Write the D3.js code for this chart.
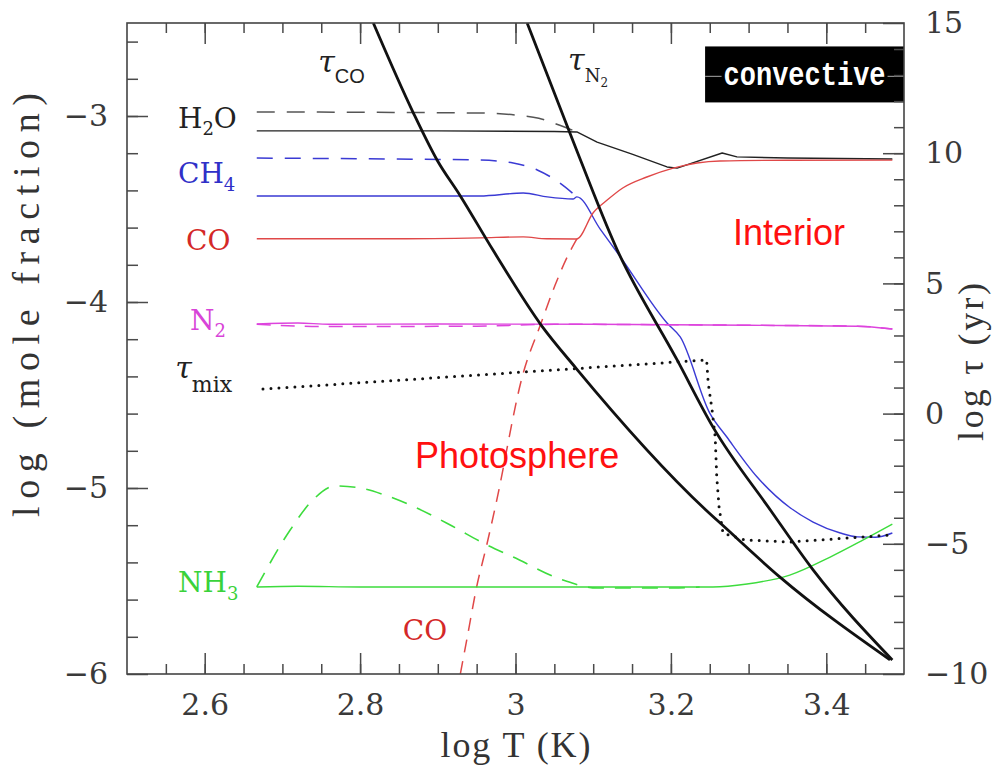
<!DOCTYPE html>
<html>
<head>
<meta charset="utf-8">
<script src="https://cdn.jsdelivr.net/npm/d3@7"></script>
<style>
  body { margin: 0; background: #fff; }
  svg { display: block; }
</style>
</head>
<body>
<svg id="chart" width="992" height="767"></svg>
<script>
// Abundance profiles (log mole fraction) versus log T, with timescales (log yr) on the right axis.
// Dashed = chemical equilibrium, solid = with vertical mixing.

const h2oEquilibrium = [[2.667,-2.978],[2.80,-2.980],[2.954,-2.984],[3.00,-2.995],[3.03,-3.012],[3.057,-3.05],[3.079,-3.086]];
const h2oMixed = [[2.667,-3.08],[2.90,-3.08],[3.05,-3.083],[3.079,-3.086],[3.105,-3.14],[3.15,-3.205],[3.195,-3.274],[3.208,-3.28],[3.266,-3.199],[3.285,-3.22],[3.35,-3.226],[3.485,-3.231]];

const ch4Equilibrium = [[2.667,-3.226],[2.80,-3.23],[2.954,-3.237],[2.997,-3.253],[3.028,-3.29],[3.057,-3.36],[3.079,-3.435]];
const ch4Mixed = [[2.667,-3.43],[2.90,-3.43],[2.954,-3.43],[3.010,-3.414],[3.041,-3.435],[3.074,-3.446],[3.079,-3.435],[3.109,-3.608],[3.135,-3.758],[3.195,-4.113],[3.212,-4.188],[3.250,-4.597],[3.272,-4.726],[3.311,-4.941],[3.353,-5.105],[3.383,-5.183],[3.418,-5.242],[3.44,-5.263],[3.463,-5.265],[3.485,-5.242]];

const coEquilibrium = [[2.929,-6.0],[2.938,-5.80],[2.950,-5.532],[2.963,-5.306],[2.974,-5.102],[3.010,-4.382],[3.032,-4.124],[3.051,-3.909],[3.066,-3.763],[3.079,-3.661]];
const coMixed = [[2.667,-3.66],[2.85,-3.66],[2.954,-3.655],[3.01,-3.65],[3.04,-3.66],[3.079,-3.661],[3.100,-3.52],[3.118,-3.452],[3.138,-3.387],[3.169,-3.328],[3.203,-3.28],[3.263,-3.242],[3.35,-3.238],[3.485,-3.237]];

const n2Equilibrium = [[2.667,-4.12],[2.75,-4.132],[2.95,-4.13],[3.05,-4.12],[3.30,-4.125],[3.44,-4.13],[3.485,-4.145]];
const n2Mixed = [[2.667,-4.118],[2.72,-4.113],[2.76,-4.12],[2.90,-4.118],[3.10,-4.12],[3.30,-4.125],[3.44,-4.13],[3.485,-4.145]];

const nh3Equilibrium = [[2.667,-5.532],[2.710,-5.226],[2.739,-5.065],[2.768,-4.989],[2.80,-5.0],[2.832,-5.038],[2.873,-5.108],[2.916,-5.199],[2.963,-5.306],[2.997,-5.371],[3.061,-5.495],[3.105,-5.538],[3.203,-5.538],[3.237,-5.532]];
const nh3Mixed = [[2.667,-5.532],[2.72,-5.528],[2.80,-5.532],[3.0,-5.532],[3.254,-5.532],[3.298,-5.516],[3.353,-5.468],[3.405,-5.371],[3.447,-5.28],[3.485,-5.194]];

// timescales, log tau (yr)
const tauCO = [[2.817,15.0],[2.868,11.58],[2.899,9.74],[2.929,8.36],[2.971,6.28],[3.033,3.40],[3.078,1.74],[3.245,-3.70],[3.267,-4.30],[3.340,-6.27],[3.482,-9.46]];
const tauN2 = [[3.015,15.0],[3.070,10.78],[3.131,6.28],[3.208,2.06],[3.254,-0.51],[3.328,-3.70],[3.383,-6.0],[3.485,-9.46]];
const tauMix = [[2.675,0.94],[3.246,2.06],[3.248,1.175],[3.253,0.14],[3.257,-0.9],[3.259,-2.43],[3.262,-3.59],[3.267,-4.59],[3.295,-4.85],[3.353,-4.93],[3.485,-4.66]];

const xMajorTicks = [2.6, 2.8, 3.0, 3.2, 3.4];
const leftMajorTicks = [-6, -5, -4, -3];
const rightMajorTicks = [-10, -5, 0, 5, 10, 15];

const W = 992, H = 767;
const plot = { left: 127, right: 904, top: 23, bottom: 674 };

const x = d3.scaleLinear().domain([2.5, 3.5]).range([plot.left, plot.right]);
const yL = d3.scaleLinear().domain([-6, -2.5]).range([plot.bottom, plot.top]);
const yR = d3.scaleLinear().domain([-10, 15]).range([plot.bottom, plot.top]);

const svg = d3.select("#chart");
const SERIF = "'DejaVu Serif', 'Liberation Serif', serif";
const THIN_SERIF = "'Liberation Serif', 'DejaVu Serif', serif";
const SANS = "'Liberation Sans', Arial, sans-serif";

svg.append("defs").append("clipPath").attr("id", "plotClip")
  .append("rect").attr("x", plot.left).attr("y", plot.top)
  .attr("width", plot.right - plot.left).attr("height", plot.bottom - plot.top);

const series = [
  { data: h2oEquilibrium, axis: yL, color: "#555", width: 1.5, dash: "18,12" },
  { data: h2oMixed, axis: yL, color: "#222", width: 1.4, linear: true },
  { data: ch4Equilibrium, axis: yL, color: "#3a3ad4", width: 1.5, dash: "16,12" },
  { data: ch4Mixed, axis: yL, color: "#3a3ad4", width: 1.4 },
  { data: coEquilibrium, axis: yL, color: "#e04848", width: 1.5, dash: "13,9" },
  { data: coMixed, axis: yL, color: "#e04848", width: 1.4 },
  { data: n2Equilibrium, axis: yL, color: "#dd44dd", width: 1.5, dash: "14,10" },
  { data: n2Mixed, axis: yL, color: "#dd44dd", width: 1.4 },
  { data: nh3Equilibrium, axis: yL, color: "#3ddc3d", width: 1.6, dash: "16,11" },
  { data: nh3Mixed, axis: yL, color: "#3ddc3d", width: 1.4 },
  { data: tauCO, axis: yR, color: "#111", width: 2.8 },
  { data: tauN2, axis: yR, color: "#111", width: 2.8 },
  { data: tauMix, axis: yR, color: "#111", width: 3, dash: "0,8", round: true, linear: true }
];

const lines = svg.append("g").attr("clip-path", "url(#plotClip)");
series.forEach(s => {
  const gen = d3.line()
    .x(d => x(d[0])).y(d => s.axis(d[1]))
    .curve(s.linear ? d3.curveLinear : d3.curveMonotoneX);
  lines.append("path")
    .attr("d", gen(s.data))
    .attr("fill", "none")
    .attr("stroke", s.color)
    .attr("stroke-width", s.width)
    .attr("stroke-dasharray", s.dash || null)
    .attr("stroke-linecap", s.round ? "round" : "butt")
    .attr("stroke-linejoin", "round");
});

// "convective" box in the upper right, spanning log tau 12..14.1
const box = svg.append("g");
const bx0 = x(3.244), bx1 = x(3.5), by0 = yR(14.1), by1 = yR(11.95);
box.append("rect").attr("x", bx0).attr("y", by0).attr("width", bx1 - bx0).attr("height", by1 - by0).attr("fill", "#000");
const midY = yR(12.95);
const convText = box.append("text")
  .attr("x", (bx0 + bx1) / 2).attr("y", midY)
  .attr("text-anchor", "middle").attr("dominant-baseline", "central")
  .attr("font-family", "'Liberation Mono', 'DejaVu Sans Mono', monospace")
  .attr("font-weight", "bold").attr("font-size", 27).attr("fill", "#fff")
  .attr("transform", `translate(0,${midY}) scale(1,1.2) translate(0,${-midY})`)
  .text("convective");
const tb = convText.node().getBBox();
[[bx0, tb.x - 2], [tb.x + tb.width + 2, bx1]].forEach(([a, b]) => {
  box.append("line").attr("x1", a).attr("x2", b).attr("y1", midY).attr("y2", midY)
    .attr("stroke", "#8a8a8a").attr("stroke-width", 1.2);
});

// axes
const fmt = d => (d < 0 ? "\u2212" : "") + String(Math.abs(+d.toFixed(2)));
const tickColor = "#4a4a4a";

function styleAxis(g, fontSize) {
  g.select(".domain").remove();
  g.selectAll(".tick line").attr("stroke", tickColor).attr("stroke-width", 1.5);
  g.selectAll(".tick text").attr("fill", "#3a3a3a").attr("font-family", SERIF).attr("font-size", fontSize);
}

const xMinor = d3.range(1, 20).map(i => 2.5 + i * 0.05);
const lMinor = d3.range(1, 18).map(i => -6 + i * 0.2);
const rMinor = d3.range(1, 25).map(i => -10 + i);

// bottom
svg.append("g").attr("transform", `translate(0,${plot.bottom})`)
  .call(d3.axisBottom(x).tickValues(xMinor).tickSize(-10).tickFormat(""))
  .call(g => styleAxis(g, 0));
svg.append("g").attr("transform", `translate(0,${plot.bottom})`)
  .call(d3.axisBottom(x).tickValues(xMajorTicks).tickSize(-21).tickPadding(20).tickFormat(fmt))
  .call(g => styleAxis(g, 30));
// top
svg.append("g").attr("transform", `translate(0,${plot.top})`)
  .call(d3.axisTop(x).tickValues(xMinor).tickSize(-10).tickFormat(""))
  .call(g => styleAxis(g, 0));
svg.append("g").attr("transform", `translate(0,${plot.top})`)
  .call(d3.axisTop(x).tickValues(xMajorTicks).tickSize(-21).tickFormat(""))
  .call(g => styleAxis(g, 0));
// left
svg.append("g").attr("transform", `translate(${plot.left},0)`)
  .call(d3.axisLeft(yL).tickValues(lMinor).tickSize(-11).tickFormat(""))
  .call(g => styleAxis(g, 0));
svg.append("g").attr("transform", `translate(${plot.left},0)`)
  .call(d3.axisLeft(yL).tickValues(leftMajorTicks).tickSize(-21).tickPadding(19).tickFormat(fmt))
  .call(g => styleAxis(g, 30));
// right
svg.append("g").attr("transform", `translate(${plot.right},0)`)
  .call(d3.axisRight(yR).tickValues(rMinor).tickSize(-10).tickFormat(""))
  .call(g => styleAxis(g, 0));
svg.append("g").attr("transform", `translate(${plot.right},0)`)
  .call(d3.axisRight(yR).tickValues(rightMajorTicks).tickSize(-21).tickPadding(21).tickFormat(fmt))
  .call(g => styleAxis(g, 30));

// frame
svg.append("rect").attr("x", plot.left).attr("y", plot.top)
  .attr("width", plot.right - plot.left).attr("height", plot.bottom - plot.top)
  .attr("fill", "none").attr("stroke", "#444").attr("stroke-width", 1.6);

// axis titles (widely spaced serif lettering)
svg.append("text")
  .attr("x", x(3.0)).attr("y", 757).attr("text-anchor", "middle")
  .attr("font-family", THIN_SERIF).attr("font-size", 36).attr("fill", "#333")
  .attr("textLength", 150).attr("lengthAdjust", "spacing")
  .text("log T (K)");
svg.append("text")
  .attr("transform", `translate(39,305) rotate(-90)`).attr("text-anchor", "middle")
  .attr("font-family", THIN_SERIF).attr("font-size", 38).attr("fill", "#333")
  .attr("textLength", 424).attr("lengthAdjust", "spacing")
  .text("log (mole fraction)");
svg.append("text")
  .attr("transform", `translate(983,362) rotate(-90)`).attr("text-anchor", "middle")
  .attr("font-family", THIN_SERIF).attr("font-size", 36).attr("fill", "#333")
  .attr("textLength", 158).attr("lengthAdjust", "spacing")
  .text("log \u03C4 (yr)");

// species and timescale labels
function label(px, py, parts, color, size, family) {
  const t = svg.append("text").attr("x", px).attr("y", py)
    .attr("fill", color).attr("font-family", family || SERIF).attr("font-size", size);
  let shift = 0;
  parts.forEach(p => {
    const off = p.dy || 0;
    t.append("tspan")
      .attr("dy", off - shift)
      .attr("font-size", p.size || null)
      .attr("font-family", p.family || null)
      .attr("font-style", p.italic ? "italic" : null)
      .text(p.t);
    shift = off;
  });
  return t;
}

label(x(2.5656), yL(-3.0645), [{ t: "H" }, { t: "2", dy: 7, size: 18 }, { t: "O" }], "#222", 28);
label(x(2.5656), yL(-3.360), [{ t: "CH" }, { t: "4", dy: 8, size: 18 }], "#3030c8", 28);
label(x(2.576), yL(-3.720), [{ t: "CO" }], "#d42828", 28);
label(x(2.581), yL(-4.150), [{ t: "N" }, { t: "2", dy: 7, size: 18 }], "#d844d8", 28);
label(x(2.562), yL(-4.409), [{ t: "\u03C4", italic: true }, { t: "mix", dy: 14, size: 22 }], "#222", 30);
label(x(2.5656), yL(-5.559), [{ t: "NH" }, { t: "3", dy: 8, size: 18 }], "#3ad23a", 28);
label(x(2.855), yL(-5.817), [{ t: "CO" }], "#d42828", 28);
label(x(2.746), yL(-2.763), [{ t: "\u03C4", italic: true }, { t: "CO", dy: 11, size: 20, family: SANS }], "#222", 30);
label(x(3.0676), yL(-2.753), [{ t: "\u03C4", italic: true }, { t: "N", dy: 12, size: 18 }, { t: "2", dy: 17, size: 12 }], "#222", 30);

label(x(2.8707), yL(-4.892), [{ t: "Photosphere" }], "#ff1010", 36, SANS);
label(x(3.280), yL(-3.694), [{ t: "Interior" }], "#ff1010", 36, SANS);
</script>
</body>
</html>
